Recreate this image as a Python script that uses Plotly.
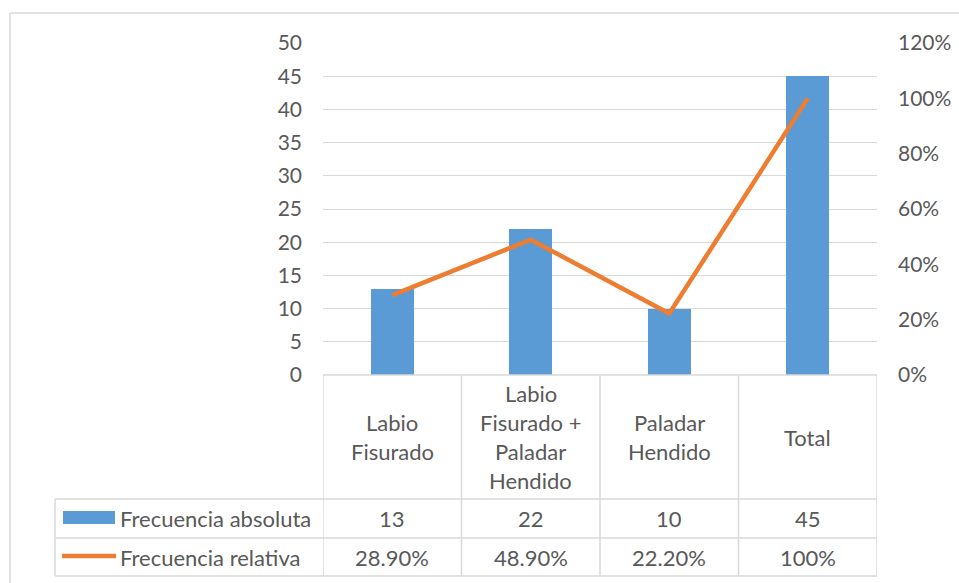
import plotly.graph_objects as go

# ---- data ----
categories = ["Labio\nFisurado", "Labio\nFisurado +\nPaladar\nHendido", "Paladar\nHendido", "Total"]
abs_freq = [13, 22, 10, 45]
rel_freq = [0.289, 0.489, 0.222, 1.0]
rel_labels = ["28.90%", "48.90%", "22.20%", "100%"]
series_names = ["Frecuencia absoluta", "Frecuencia relativa"]
left_ticks = [0, 5, 10, 15, 20, 25, 30, 35, 40, 45, 50]
right_ticks = [0, 0.2, 0.4, 0.6, 0.8, 1.0, 1.2]

BLUE = "#5B9BD5"
ORANGE = "#ED7D31"
TXT = "#595959"
GRID = "#d9d9d9"
FONT = "Lato"
FS = 21
FS_T = 22

W, H = 959, 583
def px(x): return x / W
def py(y): return 1 - y / H

xs = list(range(len(categories)))

fig = go.Figure()
fig.add_trace(go.Bar(x=xs, y=abs_freq, name=series_names[0], marker_color=BLUE,
                     width=0.31, yaxis="y", showlegend=False))
fig.add_trace(go.Scatter(x=xs, y=rel_freq, name=series_names[1], mode="lines",
                         line=dict(color=ORANGE, width=4.5), yaxis="y2", showlegend=False))

x_left, x_right = 323, 877
y_top, y_zero = 43, 375
row1, row2, row3 = 499, 538, 576
leg_left = 55

fig.update_layout(
    template="none",
    width=W, height=H, margin=dict(l=0, r=0, t=0, b=0, autoexpand=False),
    paper_bgcolor="white", plot_bgcolor="white",
    font=dict(family=FONT, size=FS, color=TXT),
    xaxis=dict(domain=[px(x_left), px(x_right)], range=[-0.5, len(categories) - 0.5], automargin=False,
               showticklabels=False, showgrid=False, zeroline=False, showline=False, fixedrange=True),
    yaxis=dict(domain=[py(y_zero), py(y_top)], range=[0, 50], tickvals=left_ticks, automargin=False,
               showgrid=True, gridcolor=GRID, gridwidth=1, zeroline=False, showline=False,
               ticks="", ticklabelstandoff=20, tickfont=dict(size=FS, color=TXT)),
    yaxis2=dict(overlaying="y", side="right", range=[0, 1.2], tickvals=right_ticks, automargin=False,
                tickformat=".0%", showgrid=False, zeroline=False, showline=False,
                ticks="", ticklabelstandoff=20, tickfont=dict(size=FS, color=TXT)),
    bargap=0,
)

shapes = []
lc = dict(color=GRID, width=1.5)
# outer chart border
shapes.append(dict(type="line", xref="paper", yref="paper", x0=px(10), x1=px(965), y0=py(13), y1=py(13), line=dict(color=GRID, width=1.5)))
shapes.append(dict(type="line", xref="paper", yref="paper", x0=px(10), x1=px(10), y0=py(13), y1=py(600), line=dict(color=GRID, width=1.5)))
# table horizontal lines
shapes.append(dict(type="line", xref="x", yref="paper", x0=-0.5, x1=len(categories) - 0.5, y0=py(y_zero), y1=py(y_zero), line=lc))
for yy in (row1, row2, row3):
    shapes.append(dict(type="line", xref="paper", yref="paper", x0=px(leg_left), x1=px(x_right), y0=py(yy), y1=py(yy), line=lc))
# table vertical lines
for i in range(len(categories) + 1):
    shapes.append(dict(type="line", xref="x", yref="paper", x0=i - 0.5, x1=i - 0.5, y0=py(y_zero), y1=py(row3), line=lc))
shapes.append(dict(type="line", xref="paper", yref="paper", x0=px(leg_left), x1=px(leg_left), y0=py(row1), y1=py(row3), line=lc))
# legend keys
shapes.append(dict(type="rect", xref="paper", yref="paper", x0=px(63), x1=px(115), y0=py(524), y1=py(511), fillcolor=BLUE, line=dict(width=0)))
shapes.append(dict(type="line", xref="paper", yref="paper", x0=px(62), x1=px(116), y0=py(556), y1=py(556), line=dict(color=ORANGE, width=4.5)))

annotations = []
# category header text, one annotation per line for spacing control
line_gap = 29
head_center = (y_zero + row1) / 2
for i, cat in enumerate(categories):
    lines = cat.split("\n")
    n = len(lines)
    for j, ln in enumerate(lines):
        yy = head_center + (j - (n - 1) / 2) * line_gap
        annotations.append(dict(x=i, y=py(yy), xref="x", yref="paper", text=ln, showarrow=False,
                                xanchor="center", yanchor="middle", font=dict(size=FS_T, color=TXT, family=FONT)))
# series names
annotations.append(dict(x=px(118), y=py((row1 + row2) / 2), xref="paper", yref="paper", text=series_names[0],
                        showarrow=False, xanchor="left", yanchor="middle", font=dict(size=FS_T, color=TXT, family=FONT)))
annotations.append(dict(x=px(118), y=py((row2 + row3) / 2), xref="paper", yref="paper", text=series_names[1],
                        showarrow=False, xanchor="left", yanchor="middle", font=dict(size=FS_T, color=TXT, family=FONT)))
# values
for i in xs:
    annotations.append(dict(x=i, y=py((row1 + row2) / 2), xref="x", yref="paper", text=str(abs_freq[i]),
                            showarrow=False, xanchor="center", yanchor="middle", font=dict(size=FS_T, color=TXT, family=FONT)))
    annotations.append(dict(x=i, y=py((row2 + row3) / 2), xref="x", yref="paper", text=rel_labels[i],
                            showarrow=False, xanchor="center", yanchor="middle", font=dict(size=FS_T, color=TXT, family=FONT)))

fig.update_layout(shapes=shapes, annotations=annotations)
fig.write_html("out.html", config={"displayModeBar": False},
               post_script="document.body.style.margin='0';document.body.style.overflow='hidden';")
